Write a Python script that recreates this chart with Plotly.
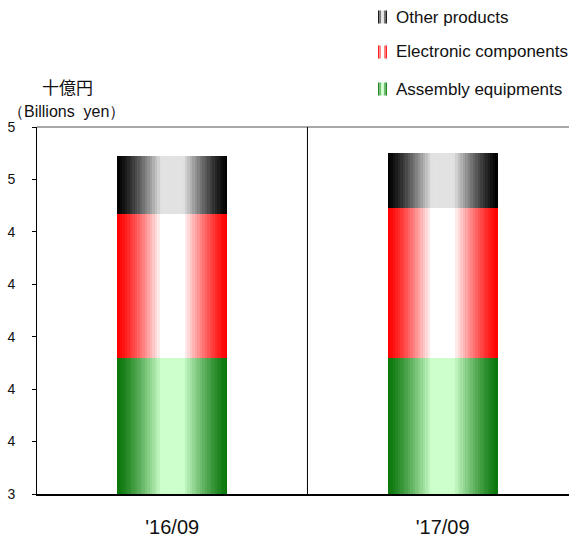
import plotly.graph_objects as go

# ---- data ----
categories = ["'16/09", "'17/09"]
series_names = ["Assembly equipments", "Electronic components", "Other products"]
assembly = [3.92, 3.92]
electronic = [0.55, 0.57]
other = [0.22, 0.21]
y_tickvals = [3.4, 3.6, 3.8, 4.0, 4.2, 4.4, 4.6, 4.8]
y_ticktext = ["3", "4", "4", "4", "4", "4", "5", "5"]

# ---- styling ----
edge_colors = [(10, 118, 10), (255, 0, 0), (0, 0, 0)]
light_colors = [(204, 255, 204), (255, 255, 255), (226, 226, 226)]
FONT = "Liberation Sans, Arial, sans-serif"
W = 0.407
N = 44


def grad(t, edge, light):
    f = (0.5 - abs(t - 0.5)) / 0.4
    f = max(0.0, min(1.0, f))
    f = f ** 1.3
    c = [round(e + (l - e) * f) for e, l in zip(edge, light)]
    return "rgb(%d,%d,%d)" % tuple(c)


fig = go.Figure()
series_vals = [assembly, electronic, other]
cum = [0.0 for _ in categories]
for s, vals in enumerate(series_vals):
    base = list(cum)
    for i in range(N):
        t = (i + 0.5) / N
        w = W / N
        fig.add_trace(go.Bar(
            x=categories, y=vals, base=base,
            offset=-W / 2 + i * w,
            width=w * (1.5 if i < N - 1 else 1.0),
            marker=dict(color=grad(t, edge_colors[s], light_colors[s]), line=dict(width=0)),
            showlegend=False, hoverinfo="skip",
        ))
    cum = [c + v for c, v in zip(cum, vals)]

# plot geometry in pixels (for legend placement)
L, R, T, B = 37, 569, 127, 494


def px(x):
    return (x - L) / (R - L)


def py(y):
    return (B - y) / (B - T)


shapes = []
# top border
shapes.append(dict(type="line", xref="paper", yref="paper", x0=0, x1=1, y0=1, y1=1,
                   line=dict(color="#a8a8a8", width=2)))
# category divider
shapes.append(dict(type="line", xref="x", yref="paper", x0=0.5, x1=0.5, y0=0, y1=1,
                   line=dict(color="black", width=1)))

annotations = []
legend_items = [("Other products", 17, 2), ("Electronic components", 52, 1), ("Assembly equipments", 89, 0)]
for text, yc, s in legend_items:
    x0p, x1p = 378, 387
    ns = 6
    for k in range(ns):
        t = (k + 0.5) / ns
        xa = x0p + (x1p - x0p) * k / ns
        xb = x0p + (x1p - x0p) * (k + 1) / ns
        shapes.append(dict(type="rect", xref="paper", yref="paper",
                           x0=px(xa), x1=px(xb), y0=py(yc + 6.5), y1=py(yc - 6.5),
                           line=dict(width=0), fillcolor=grad(t, edge_colors[s], light_colors[s]),
                           layer="above"))
    annotations.append(dict(text=text, xref="paper", yref="paper", x=px(394), y=py(yc),
                            xanchor="left", yanchor="middle", showarrow=False,
                            font=dict(family=FONT, size=17, color="#111")))

annotations.append(dict(text="十億円", xref="paper", yref="paper", x=px(67), y=py(87),
                        xanchor="center", yanchor="middle", showarrow=False,
                        font=dict(family="Noto Sans CJK JP", size=17, color="#111")))
annotations.append(dict(text="（Billions\u00a0\u00a0yen）", xref="paper", yref="paper", x=px(66), y=py(111),
                        xanchor="center", yanchor="middle", showarrow=False,
                        font=dict(family=FONT, size=16, color="#111")))

fig.update_layout(
    width=569, height=543,
    margin=dict(l=L, r=569 - R, t=T, b=543 - B, autoexpand=False),
    barmode="overlay", bargap=0,
    plot_bgcolor="white", paper_bgcolor="white",
    showlegend=False,
    shapes=shapes, annotations=annotations,
    xaxis=dict(type="category", range=[-0.5, 1.467], showgrid=False, zeroline=False,
               showline=True, linecolor="black", linewidth=2, automargin=False,
               ticks="", ticklabelstandoff=14,
               tickfont=dict(family=FONT, size=20, color="#111")),
    yaxis=dict(range=[3.4, 4.8], tickvals=y_tickvals, ticktext=y_ticktext,
               showgrid=False, zeroline=False, showline=True, linecolor="black", linewidth=1,
               ticks="outside", ticklen=4, tickcolor="black", automargin=False,
               ticklabelstandoff=14,
               tickfont=dict(family=FONT, size=14, color="#111")),
)

fig.write_html("out.html", config={"displayModeBar": False},
               post_script="document.body.style.margin='0';document.body.style.overflow='hidden';")
